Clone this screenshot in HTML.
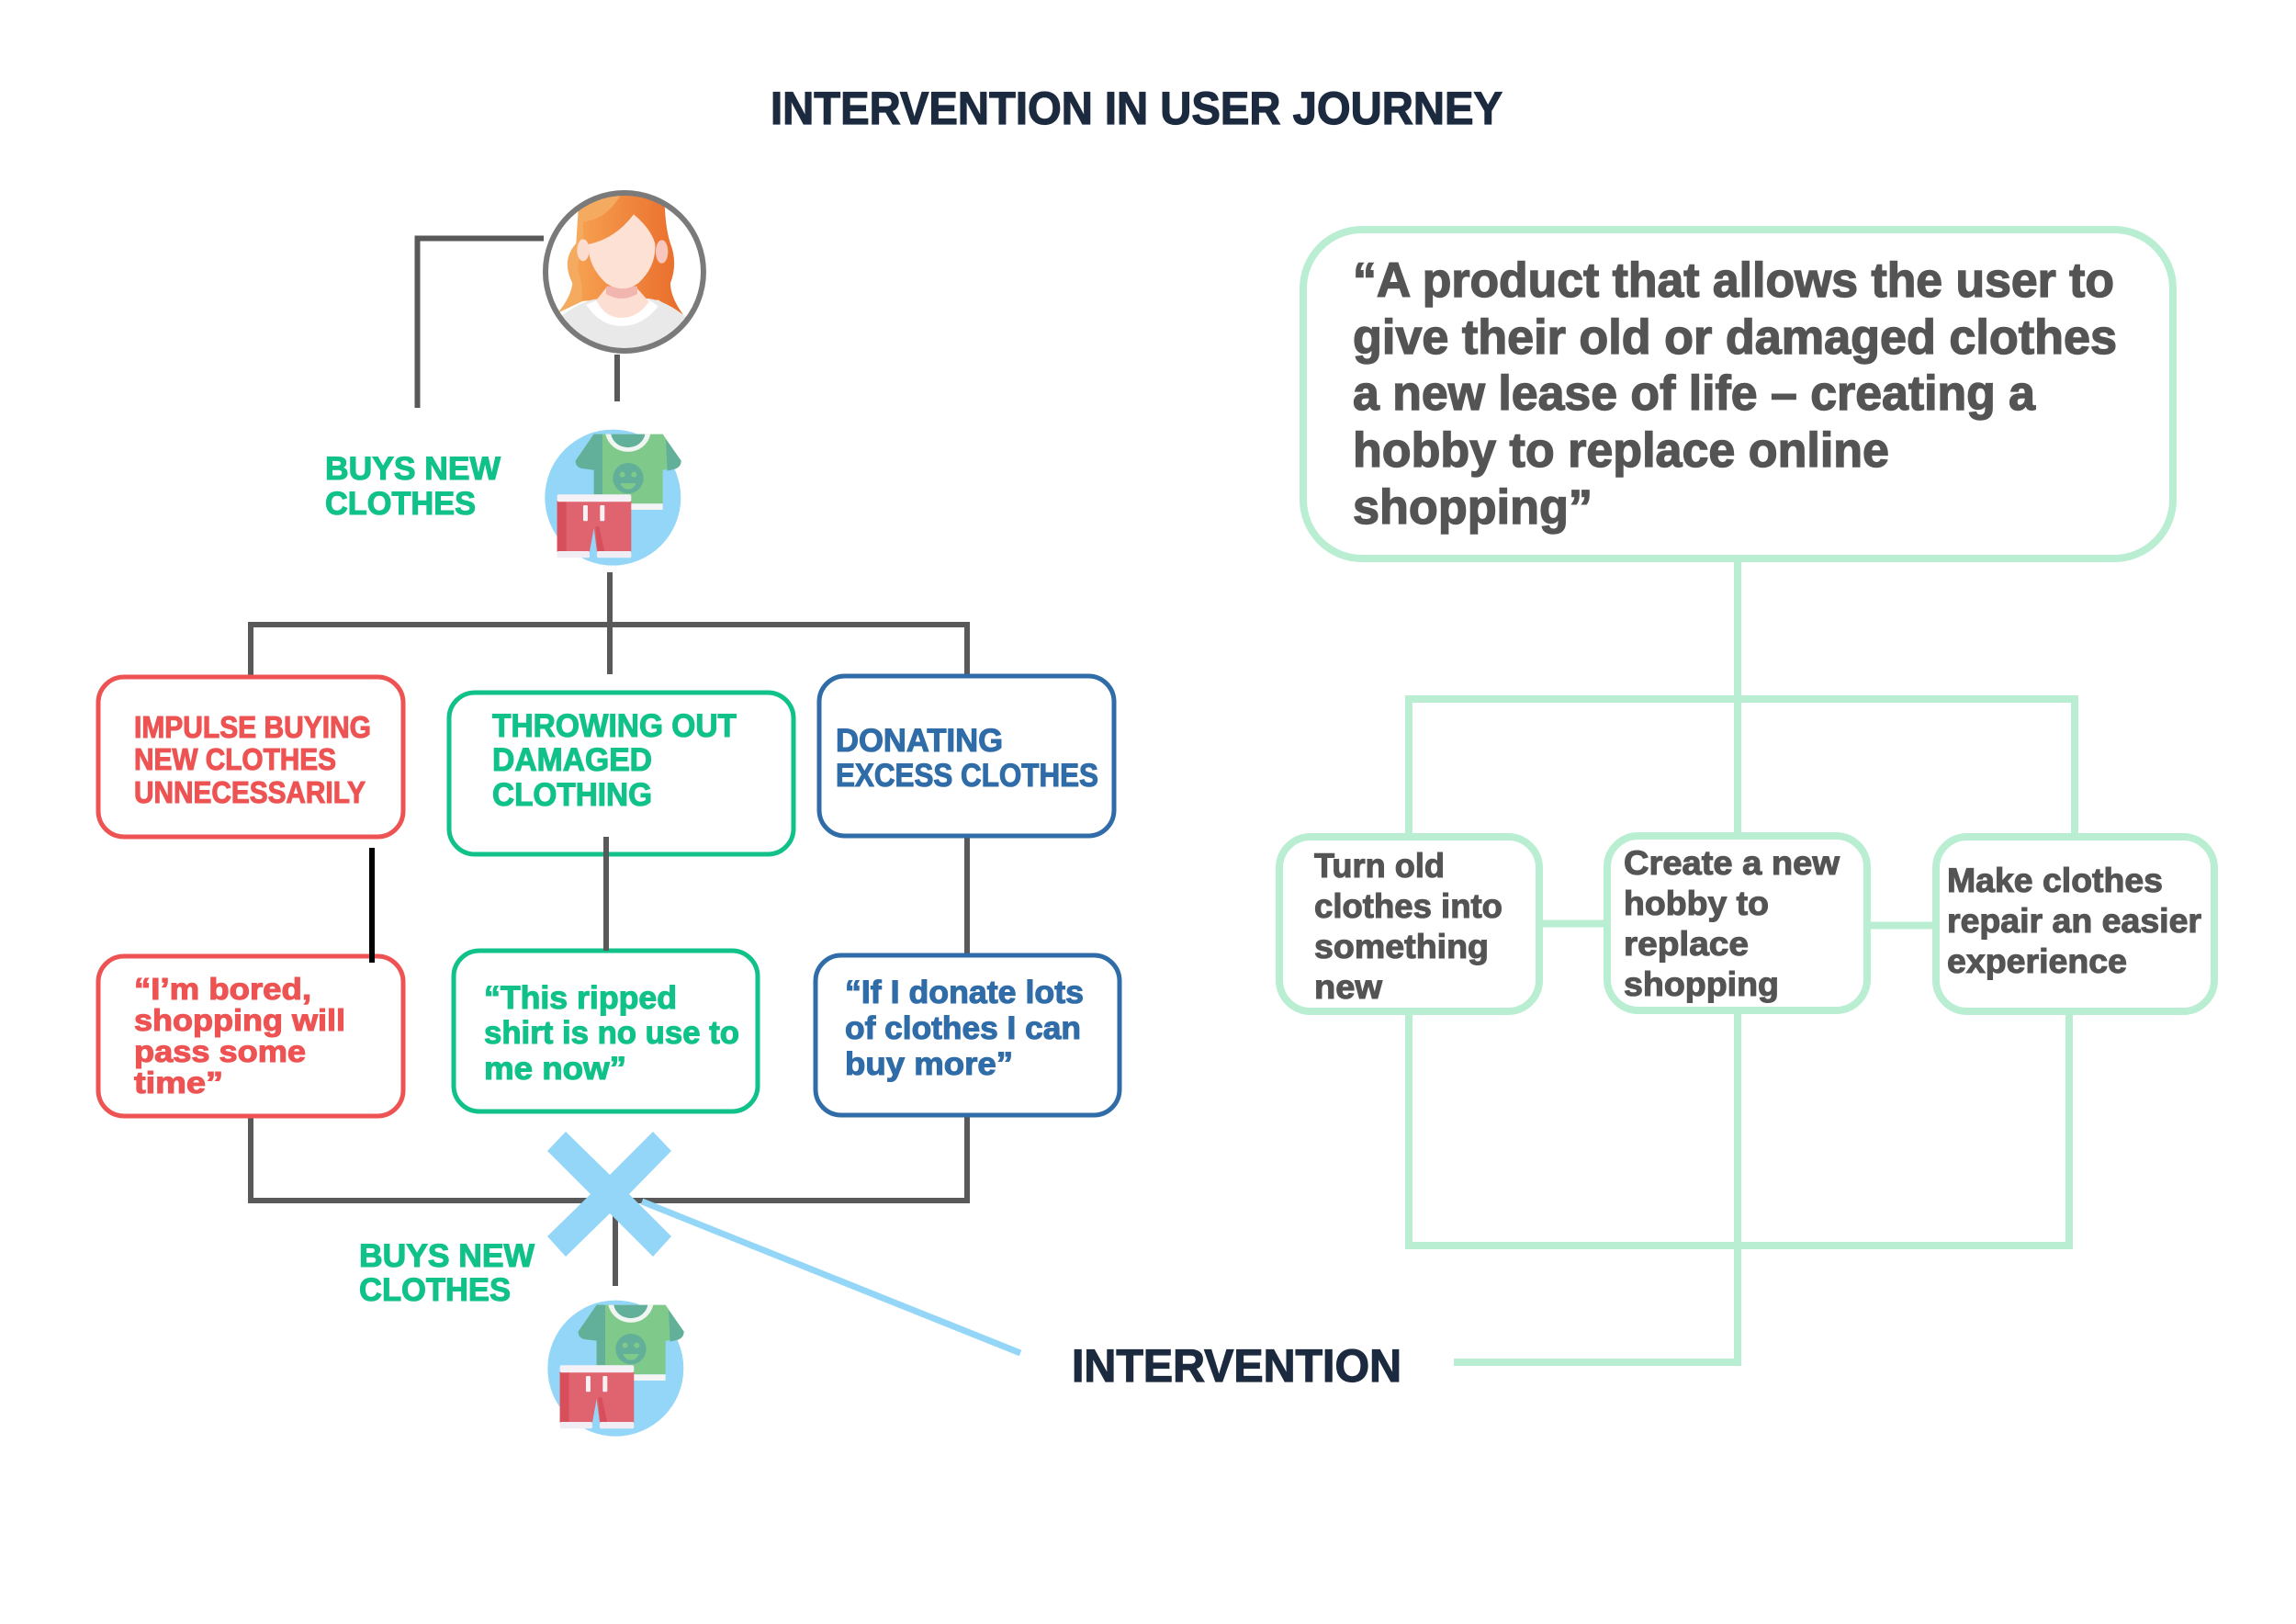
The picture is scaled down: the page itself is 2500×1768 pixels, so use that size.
<!DOCTYPE html>
<html><head><meta charset="utf-8"><title>Intervention in User Journey</title>
<style>
html,body{margin:0;padding:0;background:#fff}
svg{display:block}
text{font-family:"Liberation Sans",sans-serif;font-weight:700}
.r{font-size:33px;fill:#ee5353;stroke:#ee5353;stroke-width:1.1}
.g{font-size:35px;fill:#10c189;stroke:#10c189;stroke-width:1.1}
.b{font-size:35px;fill:#2f6ca8;stroke:#2f6ca8;stroke-width:1.1}
.d{font-size:37px;fill:#545454;stroke:#545454;stroke-width:1.1}
.l{font-size:53px;fill:#545454;stroke:#545454;stroke-width:1.4}
.t{font-size:50px;fill:#1c2a3f;stroke:#1c2a3f;stroke-width:1.2}
</style></head><body>
<svg xmlns="http://www.w3.org/2000/svg" width="2500" height="1768" viewBox="0 0 2500 1768">
<defs>
<clipPath id="av"><circle cx="840" cy="348" r="254"/></clipPath>
<linearGradient id="hm" x1="0" x2="1"><stop offset="0" stop-color="#f6a050"/><stop offset="1" stop-color="#e96c2b"/></linearGradient>
<g id="cl">
 <circle cx="802" cy="1085" r="222" fill="#93d6f8"/>
 <path d="M740 878H965L1025 965Q1025 985 1005 990L965 995V1105H740V995L700 990Q680 985 680 965Z" fill="#7fc98a"/>
 <path d="M740 878H768V1075H740V995L700 990Q680 985 680 965Z" fill="#62b09a"/>
 <path d="M975 895L1025 965Q1025 985 1005 992L980 998Z" fill="#62b09a"/>
 <path d="M778 878A75 72 0 0 0 925 878Z" fill="#f2f6f2"/>
 <path d="M796 878A56 50 0 0 0 907 878Z" fill="#62b09a"/>
 <circle cx="852" cy="1022" r="50" fill="#62b09a"/>
 <circle cx="833" cy="1010" r="9" fill="#7fc98a"/><circle cx="871" cy="1010" r="9" fill="#7fc98a"/>
 <path d="M826 1038H878Q870 1058 852 1058Q834 1058 826 1038Z" fill="#7fc98a"/>
 <rect x="860" y="1105" width="105" height="20" fill="#f5f5f5"/>
 <path d="M620 1095H862V1262H750L740 1185L726 1262H620Z" fill="#e0646f"/>
 <path d="M620 1095H650V1262H620Z" fill="#d84f5c"/>
 <path d="M745 1180L752 1262H775L757 1180Z" fill="#d84f5c"/>
 <rect x="620" y="1075" width="242" height="24" rx="6" fill="#f6f1f6"/>
 <rect x="620" y="1260" width="106" height="22" rx="5" fill="#f1edf4"/>
 <rect x="750" y="1260" width="112" height="22" rx="5" fill="#f1edf4"/>
 <rect x="705" y="1110" width="15" height="52" rx="4" fill="#f8f0f2"/>
 <rect x="760" y="1110" width="15" height="52" rx="4" fill="#f8f0f2"/>
</g>
</defs>
<rect width="2500" height="1768" fill="#fff"/>

<!-- title -->
<text class="t" x="839" y="135" textLength="797" lengthAdjust="spacingAndGlyphs">INTERVENTION IN USER JOURNEY</text>

<!-- left connectors -->
<g fill="none" stroke="#595959" stroke-width="6">
 <path d="M454.500 444V259.500H592"/>
 <path d="M672 386V437"/>
 <path d="M664 623V734"/>
 <path d="M273 738V680H1053V736"/>
 <path d="M1053 909V1040"/>
 <path d="M273 1214V1307H1053V1213"/>
 <path d="M670 1323V1400"/>
</g>

<!-- avatar -->
<g transform="translate(400 180) scale(.3333)">
 <circle cx="840" cy="348" r="258" fill="#fff"/>
 <g clip-path="url(#av)">
  <path d="M690 130Q760 85 850 88L850 420L700 445L622 482Q665 430 670 385Q632 310 682 255Z" fill="#f5ab5f"/>
  <path d="M705 185Q785 175 830 92L955 100L972 140Q975 210 990 255Q1015 320 990 385Q990 430 1032 488L950 440L760 445L700 440Q705 380 685 335L705 255Z" fill="url(#hm)"/>
  <path d="M630 495Q700 440 760 435H920Q980 445 1040 495V620H630Z" fill="#e9e9e9"/>
  <path d="M715 455Q760 435 790 430H890Q920 435 950 460Q900 525 830 525Q760 525 715 455Z" fill="#fff"/>
  <path d="M748 440L780 400H880L920 445Q885 498 830 498Q775 498 748 440Z" fill="#fcdfd2"/>
  <path d="M780 395H882V420Q830 450 780 420Z" fill="#f2b6b0"/>
  <path d="M722 258Q810 240 870 160Q925 205 940 255Q945 330 885 385Q835 420 780 385Q720 330 722 258Z" fill="#fce1d4"/>
  <ellipse cx="705" cy="277" rx="20" ry="36" fill="#fcdcce"/>
  <ellipse cx="962" cy="282" rx="20" ry="38" fill="#f7c6bd"/>
 </g>
 <circle cx="840" cy="348" r="258" fill="none" stroke="#7a7a7a" stroke-width="18"/>
 <use href="#cl"/>
</g>
<g transform="translate(403 1128) scale(.3333)"><use href="#cl"/></g>

<!-- left boxes -->
<g fill="#fff" stroke-width="5">
 <rect x="107" y="737" width="332" height="174" rx="28" stroke="#ee5353"/>
 <rect x="489" y="754" width="375" height="176" rx="28" stroke="#10c189"/>
 <rect x="892" y="736" width="321" height="174" rx="28" stroke="#2f6ca8"/>
 <rect x="107" y="1041" width="332" height="174" rx="28" stroke="#ee5353"/>
 <rect x="494" y="1035" width="331" height="175" rx="28" stroke="#10c189"/>
 <rect x="888" y="1040" width="331" height="174" rx="28" stroke="#2f6ca8"/>
</g>
<path d="M660 911V1035" stroke="#595959" stroke-width="6"/>
<path d="M405 923V1048" stroke="#000" stroke-width="6"/>

<!-- left labels -->
<text class="g" x="354" y="522" textLength="191" lengthAdjust="spacingAndGlyphs">BUYS NEW</text>
<text class="g" x="354" y="560" textLength="164" lengthAdjust="spacingAndGlyphs">CLOTHES</text>
<text class="r" x="146" y="803" textLength="258" lengthAdjust="spacingAndGlyphs">IMPULSE BUYING</text>
<text class="r" x="146" y="838" textLength="220" lengthAdjust="spacingAndGlyphs">NEW CLOTHES</text>
<text class="r" x="146" y="874" textLength="252" lengthAdjust="spacingAndGlyphs">UNNECESSARILY</text>
<text class="g" x="536" y="802" textLength="266" lengthAdjust="spacingAndGlyphs">THROWING OUT</text>
<text class="g" x="536" y="839" textLength="174" lengthAdjust="spacingAndGlyphs">DAMAGED</text>
<text class="g" x="536" y="877" textLength="174" lengthAdjust="spacingAndGlyphs">CLOTHING</text>
<text class="b" x="910" y="818" textLength="182" lengthAdjust="spacingAndGlyphs">DONATING</text>
<text class="b" x="910" y="856" textLength="286" lengthAdjust="spacingAndGlyphs">EXCESS CLOTHES</text>
<text class="r" x="146" y="1088" textLength="193" lengthAdjust="spacingAndGlyphs">“I’m bored,</text>
<text class="r" x="146" y="1122" textLength="230" lengthAdjust="spacingAndGlyphs">shopping will</text>
<text class="r" x="146" y="1156" textLength="187" lengthAdjust="spacingAndGlyphs">pass some</text>
<text class="r" x="146" y="1190" textLength="97" lengthAdjust="spacingAndGlyphs">time”</text>
<text class="g" x="527" y="1098" textLength="210" lengthAdjust="spacingAndGlyphs">“This ripped</text>
<text class="g" x="527" y="1136" textLength="278" lengthAdjust="spacingAndGlyphs">shirt is no use to</text>
<text class="g" x="527" y="1175" textLength="155" lengthAdjust="spacingAndGlyphs">me now”</text>
<text class="b" x="920" y="1092" textLength="260" lengthAdjust="spacingAndGlyphs">“If I donate lots</text>
<text class="b" x="920" y="1131" textLength="257" lengthAdjust="spacingAndGlyphs">of clothes I can</text>
<text class="b" x="920" y="1170" textLength="183" lengthAdjust="spacingAndGlyphs">buy more”</text>
<text class="g" x="391" y="1379" textLength="191" lengthAdjust="spacingAndGlyphs">BUYS NEW</text>
<text class="g" x="391" y="1416" textLength="165" lengthAdjust="spacingAndGlyphs">CLOTHES</text>

<!-- X and callout -->
<path d="M616 1232L664 1279L711 1232L731 1253L685 1300L731 1346L711 1368L664 1321L616 1368L596 1346L643 1300L596 1253Z" fill="#93d6f8"/>
<path d="M699 1308L1111 1473" stroke="#93d6f8" stroke-width="7"/>

<!-- right connectors -->
<g fill="none" stroke="#b9eed3" stroke-width="8">
 <path d="M1892 608V761"/>
 <path d="M1534 908V761H2259V908"/>
 <path d="M1892 761V906"/>
 <path d="M1534 1105V1356H2253V1105"/>
 <path d="M1892 1103V1483H1583"/>
 <path d="M1680 1005.500H1746"/>
 <path d="M2037 1007.500H2104"/>
</g>

<!-- right boxes -->
<g fill="#fff" stroke="#b9eed3" stroke-width="8">
 <rect x="1419" y="250" width="947" height="358" rx="64"/>
 <rect x="1393" y="911" width="283" height="190" rx="34"/>
 <rect x="1750" y="910" width="283" height="190" rx="34"/>
 <rect x="2108" y="911" width="303" height="190" rx="34"/>
</g>

<!-- right labels -->
<text class="l" x="1473" y="323" textLength="829" lengthAdjust="spacingAndGlyphs">“A product that allows the user to</text>
<text class="l" x="1473" y="385" textLength="832" lengthAdjust="spacingAndGlyphs">give their old or damaged clothes</text>
<text class="l" x="1473" y="446" textLength="743" lengthAdjust="spacingAndGlyphs">a new lease of life – creating a</text>
<text class="l" x="1473" y="508" textLength="584" lengthAdjust="spacingAndGlyphs">hobby to replace online</text>
<text class="l" x="1473" y="570" textLength="261" lengthAdjust="spacingAndGlyphs">shopping”</text>
<text class="d" x="1431" y="955" textLength="142" lengthAdjust="spacingAndGlyphs">Turn old</text>
<text class="d" x="1431" y="999" textLength="205" lengthAdjust="spacingAndGlyphs">clothes into</text>
<text class="d" x="1431" y="1043" textLength="190" lengthAdjust="spacingAndGlyphs">something</text>
<text class="d" x="1431" y="1087" textLength="74" lengthAdjust="spacingAndGlyphs">new</text>
<text class="d" x="1768" y="952" textLength="235" lengthAdjust="spacingAndGlyphs">Create a new</text>
<text class="d" x="1768" y="996" textLength="158" lengthAdjust="spacingAndGlyphs">hobby to</text>
<text class="d" x="1768" y="1040" textLength="136" lengthAdjust="spacingAndGlyphs">replace</text>
<text class="d" x="1768" y="1084" textLength="169" lengthAdjust="spacingAndGlyphs">shopping</text>
<text class="d" x="2120" y="971" textLength="235" lengthAdjust="spacingAndGlyphs">Make clothes</text>
<text class="d" x="2120" y="1015" textLength="277" lengthAdjust="spacingAndGlyphs">repair an easier</text>
<text class="d" x="2120" y="1059" textLength="196" lengthAdjust="spacingAndGlyphs">experience</text>
<text class="t" x="1167" y="1504" textLength="359" lengthAdjust="spacingAndGlyphs">INTERVENTION</text>
</svg>
</body></html>
